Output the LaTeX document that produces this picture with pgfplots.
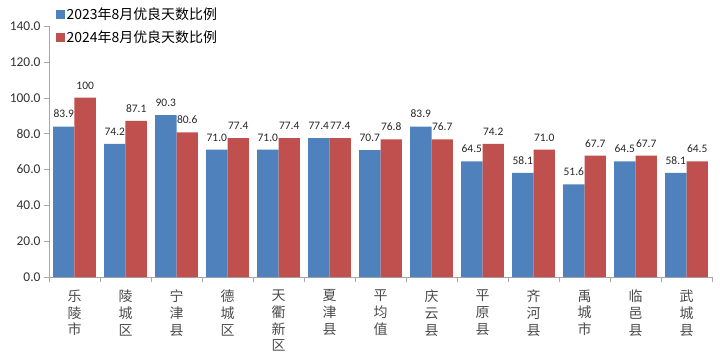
\documentclass[border=0pt]{standalone}
\usepackage{fontspec}
\setmainfont{Carlito}
\newfontfamily\cjk{Noto Sans CJK SC}
\usepackage{pgfplots}
\pgfplotsset{compat=1.18}
\usepackage{pgfplotstable}
\definecolor{cblue}{HTML}{4F81BD}
\definecolor{cred}{HTML}{C0504D}
\definecolor{axgray}{HTML}{A6A6A6}
\pgfplotstableread{
x a b la lb
0 83.9 100 83.9 100
1 74.2 87.1 74.2 87.1
2 90.3 80.6 90.3 80.6
3 71.0 77.4 71.0 77.4
4 71.0 77.4 71.0 77.4
5 77.4 77.4 77.4 77.4
6 70.7 76.8 70.7 76.8
7 83.9 76.7 83.9 76.7
8 64.5 74.2 64.5 74.2
9 58.1 71.0 58.1 71.0
10 51.6 67.7 51.6 67.7
11 64.5 67.7 64.5 67.7
12 58.1 64.5 58.1 64.5
}\data
\begin{document}
\begin{tikzpicture}
\begin{axis}[
  name=ax,
  scale only axis,
  width=663bp, height=251bp,
  ybar=0pt, bar width=0.42,
  xmin=-0.5, xmax=12.5,
  ymin=0, ymax=140,
  ytick={0,20,...,140},
  axis lines*=left,
  axis line style={draw=axgray,-},
  tick align=outside,
  major tick length=5bp,
  tick style={draw=axgray},
  yticklabel style={font=\fontsize{13.5}{15}\selectfont, text=black!80},
  /pgf/number format/assume math mode=true,
  yticklabel={\pgfmathprintnumber[fixed,fixed zerofill,precision=1]{\tick}},
  xtick={0,...,12},
  major x tick style={draw=none},
  xticklabels={{乐\\陵\\市},{陵\\城\\区},{宁\\津\\县},{德\\城\\区},{天\\衢\\新\\区},{夏\\津\\县},{平\\均\\值},{庆\\云\\县},{平\\原\\县},{齐\\河\\县},{禹\\城\\市},{临\\邑\\县},{武\\城\\县}},
  xticklabel style={font=\cjk\fontsize{14}{17}\selectfont, align=center, text=black!70, yshift=-4bp},
  extra x ticks={-0.5,0.5,...,12.5},
  extra x tick labels={},
  extra x tick style={major x tick style={draw=axgray}, major tick length=5bp},
  nodes near coords={\pgfplotspointmeta},
  point meta=explicit symbolic,
  every node near coord/.append style={font=\fontsize{11.5}{13}\selectfont, text=black!85, yshift=5bp},
  legend style={at={(axis description cs:0,1)}, anchor=north west, xshift=4bp, yshift=22bp,
    draw=none, fill=none, font=\cjk\fontsize{14}{16}\selectfont, row sep=7bp,
    nodes={inner sep=1.5bp}},
  legend cell align=left,
  legend image code/.code={\fill[#1] (0bp,-4.5bp) rectangle (9bp,4.5bp);},
]
\addplot[fill=cblue, draw=none] table[x=x, y=a, meta=la] {\data};
\addplot[fill=cred, draw=none] table[x=x, y=b, meta=lb] {\data};
\legend{2023年8月优良天数比例, 2024年8月优良天数比例}
\end{axis}
\path (ax.south west) ++(-49bp,-79bp) rectangle ++(720bp,356bp);
\end{tikzpicture}
\end{document}
